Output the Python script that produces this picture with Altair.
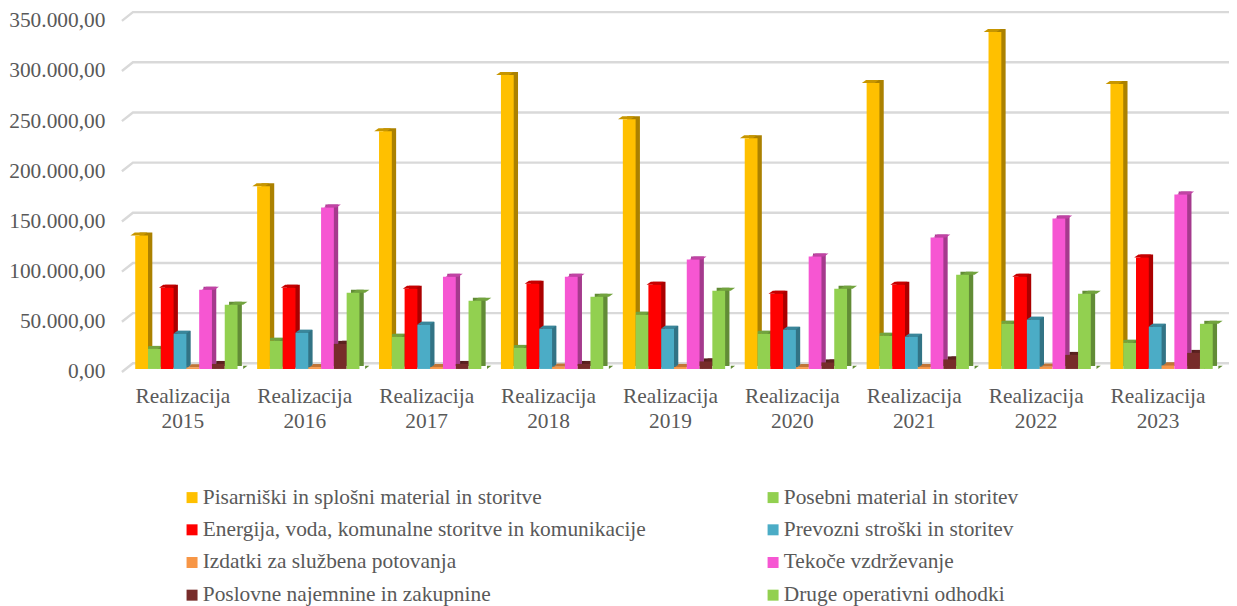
import altair as alt
import pandas as pd

years = ["Realizacija 2015", "Realizacija 2016", "Realizacija 2017", "Realizacija 2018", "Realizacija 2019",
         "Realizacija 2020", "Realizacija 2021", "Realizacija 2022", "Realizacija 2023"]
series = ["Pisarniški in splošni material in storitve", "Posebni material in storitev",
          "Energija, voda, komunalne storitve in komunikacije", "Prevozni stroški in storitev",
          "Izdatki za službena potovanja", "Tekoče vzdrževanje",
          "Poslovne najemnine in zakupnine", "Druge operativni odhodki"]
pisarniski = [133000, 182000, 237000, 293000, 249000, 230000, 285000, 336000, 284000]
posebni = [20000, 28000, 32000, 21000, 54000, 35000, 33000, 45000, 26000]
energija = [81000, 81000, 80000, 85000, 84000, 75000, 84000, 92000, 111000]
prevozni = [35000, 36000, 44000, 40000, 40000, 39000, 32000, 49000, 42000]
izdatki = [1500, 1800, 2000, 2200, 2000, 1800, 2000, 2200, 3500]
tekoce = [79000, 161000, 92000, 92000, 109000, 112000, 131000, 150000, 174000]
najemnine = [5000, 25000, 5000, 5000, 7500, 6500, 9500, 14000, 16000]
druge = [64000, 76000, 68000, 72000, 78000, 80000, 94000, 75000, 45000]
all_values = [pisarniski, posebni, energija, prevozni, izdatki, tekoce, najemnine, druge]

front = ["#FFC000", "#92D050", "#FF0000", "#4BACC6", "#F79646", "#F656D2", "#772C2A", "#92D050"]
top = ["#C79600", "#72A33E", "#C70000", "#3A869A", "#C17536", "#C043A4", "#5D2220", "#72A33E"]
side = ["#AB8100", "#628C36", "#AB0000", "#327385", "#A6652F", "#A53A8D", "#501D1C", "#628C36"]
y_ticks = [0, 50000, 100000, 150000, 200000, 250000, 300000, 350000]

rows = []
for s, name in enumerate(series):
    for y, year in enumerate(years):
        rows.append(dict(year=year, series=name, value=all_values[s][y],
                         side=side[s], top=top[s], base=0))
df = pd.DataFrame(rows)
ticks = pd.DataFrame({"tick": y_ticks})

y_scale = alt.Scale(domain=[0, 350000], nice=False)
x_enc = alt.X("year:N", sort=years, title=None, scale=alt.Scale(paddingInner=0, paddingOuter=0),
              axis=alt.Axis(labelExpr="split(datum.value, ' ')", labelAngle=0, ticks=False, domain=False,
                            grid=False, labelPadding=17, labelLineHeight=25))
off_enc = alt.XOffset("series:N", sort=series,
                      scale=alt.Scale(domain=series, paddingInner=0, paddingOuter=0.766, align=0.68))
off_side = alt.XOffset("series:N", sort=series,
                       scale=alt.Scale(domain=series, paddingInner=0, paddingOuter=0.766, align=0.90))
y_enc = alt.Y("value:Q", scale=y_scale, title=None,
              axis=alt.Axis(values=y_ticks, ticks=False, domain=False, grid=False, labelPadding=17, labelOffset=3,
                            labelExpr="replace(format(datum.value, ',.0f'), regexp(',', 'g'), '.') + ',00'"))

grid = alt.Chart(ticks).mark_point(
    shape="M0,3 L11,-5.7 L1108,-5.7", size=4, filled=False, stroke="#D9D9D9", strokeWidth=2.4, opacity=1
).encode(x=alt.value(0), y=alt.Y("tick:Q", scale=y_scale, title=None))

base = alt.Chart(df)
side_rect = base.mark_bar(yOffset=-3, y2Offset=-3).encode(
    x=x_enc, xOffset=off_side, y=y_enc, y2=alt.Y2("base:Q"), color=alt.Color("side:N", scale=None))
side_foot = base.mark_point(shape="M6.4,0 L10.7,-3.2 L6.4,-3.2 Z", size=4, filled=True, opacity=1, strokeWidth=0).encode(
    x=x_enc, xOffset=off_enc, y=alt.Y("base:Q", scale=y_scale, title=None), color=alt.Color("side:N", scale=None))
top_face = base.mark_point(shape="M-6.4,0 L6.4,0 L10.7,-3 L-2.1,-3 Z", size=4, filled=True, opacity=1, strokeWidth=0).encode(
    x=x_enc, xOffset=off_enc, y=y_enc, color=alt.Color("top:N", scale=None))
front_rect = base.mark_bar().encode(
    x=x_enc, xOffset=off_enc, y=y_enc, y2=alt.Y2("base:Q"),
    color=alt.Color("series:N", sort=series, title=None,
                    scale=alt.Scale(domain=series, range=front),
                    legend=alt.Legend(orient="none", legendX=59.5, legendY=469, columns=2, direction="horizontal",
                                      symbolType="square", symbolSize=121, symbolStrokeWidth=0,
                                      labelLimit=600, labelFontSize=21.4, labelColor="#595959",
                                      labelFont="Liberation Serif", rowPadding=9.7, columnPadding=116.5, labelOffset=0,
                                      symbolOpacity=1)))

chart = (grid + side_rect + side_foot + top_face + front_rect).resolve_scale(xOffset="independent").properties(
    width=1098, height=351.4, autosize=alt.AutoSizeParams(type="none"),
    padding={"left": 114, "top": 9.6, "right": 10, "bottom": 237}
).configure_view(stroke=None).configure_axis(
    labelFont="Liberation Serif", labelFontSize=21.4, labelColor="#595959")

chart.save("out.html", embed_options={"renderer": "svg", "actions": False})
